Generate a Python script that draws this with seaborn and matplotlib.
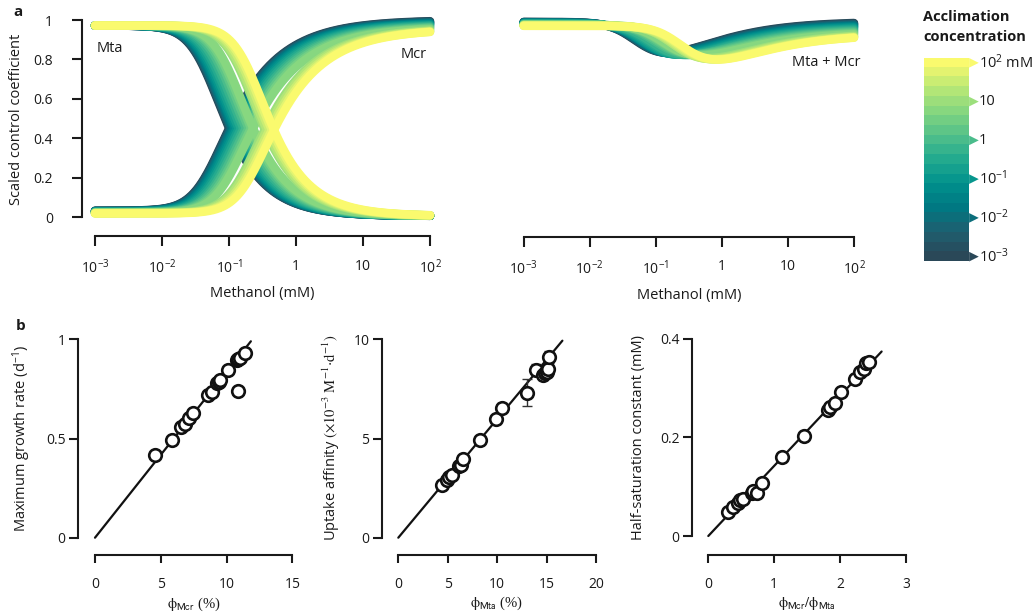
import numpy as np
import pandas as pd
import matplotlib
matplotlib.use("Agg")
import matplotlib.pyplot as plt
from matplotlib.colors import ListedColormap
from matplotlib.ticker import NullLocator
import seaborn as sns

# ---------------------------------------------------------------- data
# acclimation concentrations (log10 mM), one model curve each
accl_exp = [-3.0, -2.75, -2.5, -2.25, -2.0, -1.75, -1.5, -1.25, -1.0, -0.75,
            -0.5, -0.25, 0.0, 0.25, 0.5, 0.75, 1.0, 1.25, 1.5, 1.75, 2.0]

# per-curve model parameters for the scaled control coefficients
mta_mid = [0.090, 0.092, 0.094, 0.096, 0.099, 0.102, 0.106, 0.110, 0.116, 0.124,
           0.134, 0.146, 0.160, 0.175, 0.190, 0.205, 0.300, 0.320, 0.350, 0.380, 0.410]
mta_top = [0.972] * 21
mta_floor = [0.005] * 21
mcr_mid = [0.125, 0.127, 0.129, 0.132, 0.135, 0.139, 0.144, 0.150, 0.158, 0.168,
           0.180, 0.195, 0.210, 0.228, 0.246, 0.265, 0.400, 0.430, 0.470, 0.510, 0.550]
mcr_top = [1.000, 0.998, 0.996, 0.994, 0.992, 0.990, 0.988, 0.986, 0.984, 0.981,
           0.978, 0.975, 0.972, 0.969, 0.966, 0.963, 0.960, 0.958, 0.956, 0.955, 0.955]
mcr_floor = [0.032, 0.031, 0.031, 0.030, 0.030, 0.029, 0.028, 0.028, 0.027, 0.026,
             0.025, 0.024, 0.024, 0.023, 0.022, 0.021, 0.021, 0.020, 0.019, 0.019, 0.018]
mta_shape = (2.2, 0.4)
mcr_shape = (2.2, 0.3)

# panel b: maximum growth rate vs phi_Mcr
phi_mcr = [4.56, 5.83, 6.51, 6.84, 7.17, 7.47, 8.62, 8.87, 9.25, 9.40, 9.51,
           10.14, 10.77, 10.90, 11.03, 11.40, 10.90]
growth = [0.417, 0.492, 0.560, 0.571, 0.602, 0.627, 0.719, 0.736, 0.778, 0.785, 0.795,
          0.845, 0.896, 0.900, 0.904, 0.929, 0.739]
growth_fit_x = [0.0, 11.85]
growth_fit_y = [0.0, 0.99]

# uptake affinity vs phi_Mta
phi_mta = [4.39, 4.90, 5.16, 5.40, 6.17, 6.30, 6.51, 8.27, 9.88, 10.46, 12.99,
           13.93, 14.60, 14.84, 15.01, 15.18, 15.28]
affinity = [2.66, 2.91, 3.04, 3.16, 3.61, 3.66, 3.95, 4.92, 5.97, 6.55, 7.31,
            8.45, 8.20, 8.29, 8.37, 8.49, 9.09]
affinity_err = [0.18, 0.20, 0.20, 0.20, 0.20, 0.20, 0.22, 0.22, 0.22, 0.22, 0.67,
                0.30, 0.25, 0.25, 0.25, 0.25, 0.30]
affinity_fit_x = [0.0, 16.6]
affinity_fit_y = [0.0, 9.93]

# half-saturation constant vs phi_Mcr/phi_Mta
phi_ratio = [0.304, 0.380, 0.455, 0.481, 0.520, 0.658, 0.683, 0.734, 0.810, 1.114,
             1.452, 1.820, 1.850, 1.920, 2.020, 2.230, 2.300, 2.360, 2.400, 2.440]
half_sat = [0.049, 0.059, 0.066, 0.073, 0.076, 0.087, 0.092, 0.088, 0.108, 0.160,
            0.203, 0.256, 0.262, 0.270, 0.292, 0.318, 0.333, 0.339, 0.350, 0.352]
half_sat_fit_x = [0.0, 2.63]
half_sat_fit_y = [0.0, 0.374]

log_ticks = [1e-3, 1e-2, 1e-1, 1, 10, 100]
log_labels = ["$10^{-3}$", "$10^{-2}$", "$10^{-1}$", "1", "10", "$10^{2}$"]
cbar_labels = ["$10^{-3}$", "$10^{-2}$", "$10^{-1}$", "1", "10", "$10^{2}$ mM"]

# ---------------------------------------------------------------- style
sns.set_theme(style="white")
plt.rcParams["font.family"] = ["Open Sans", "DejaVu Sans"]
plt.rcParams["mathtext.fontset"] = "custom"
plt.rcParams["mathtext.rm"] = "Open Sans"
plt.rcParams["mathtext.it"] = "Open Sans:italic"
plt.rcParams["mathtext.bf"] = "Open Sans:bold"
plt.rcParams["mathtext.default"] = "rm"
plt.rcParams["text.color"] = "#1a1a1a"
plt.rcParams["axes.labelcolor"] = "#1a1a1a"
plt.rcParams["xtick.color"] = "#1a1a1a"
plt.rcParams["ytick.color"] = "#1a1a1a"

palette = sns.blend_palette(["#2a4858", "#1f5f70", "#007882", "#00918d", "#23aa8f",
                             "#54c18a", "#86d780", "#bdea75", "#fafa6e"], n_colors=21)

W, H = 1036, 616
fig = plt.figure(figsize=(W / 100, H / 100), dpi=100)


def place(ax, box, xmap, ymap, xlog=False):
    """Position an axes by its pixel box and map data anchors to pixels."""
    left, top, right, bottom = box

    def lim(p0, v0, p1, v1, lo_px, hi_px, log):
        t0, t1 = (np.log10(v0), np.log10(v1)) if log else (v0, v1)
        k = (t1 - t0) / (p1 - p0)
        a, b = t0 + (lo_px - p0) * k, t0 + (hi_px - p0) * k
        return (10 ** a, 10 ** b) if log else (a, b)

    ax.set_position([left / W, 1 - bottom / H, (right - left) / W, (bottom - top) / H])
    if xlog:
        ax.set_xscale("log")
    ax.set_xlim(*lim(*xmap, left, right, xlog))
    ax.set_ylim(*lim(*ymap, bottom, top, False))


def frame(ax, xb, yb=None, ylen=7.2, xlen=7.2, ypad=2.0, xpad=10.0):
    sns.despine(ax=ax)
    for s in ("left", "bottom"):
        ax.spines[s].set_linewidth(1.5)
        ax.spines[s].set_color("#1a1a1a")
    ax.spines["bottom"].set_bounds(*xb)
    if yb is None:
        ax.spines["left"].set_visible(False)
        ax.set_yticks([])
    else:
        ax.spines["left"].set_bounds(*yb)
    ax.tick_params(axis="y", direction="out", length=ylen, width=1.5, pad=ypad,
                   labelsize=10, left=yb is not None)
    ax.tick_params(axis="x", direction="out", length=xlen, width=1.5, pad=xpad,
                   labelsize=10, bottom=True)
    ax.grid(False)


def drop(s, mid, shape):
    n, m = shape
    c = (2 ** (1 / m) - 1) ** (1 / n)
    return (1 + (s / mid * c) ** n) ** (-m)


# ---------------------------------------------------------------- model curves
meth = np.logspace(-3, 2, 400)
rows_ab, rows_sum = [], []
for i in range(len(accl_exp)):
    mta = mta_floor[i] + (mta_top[i] - mta_floor[i]) * drop(meth, mta_mid[i], mta_shape)
    mcr = mcr_floor[i] + (mcr_top[i] - mcr_floor[i]) * (1 - drop(meth, mcr_mid[i], mcr_shape))
    rows_ab.append(pd.DataFrame({"S": meth, "C": mta, "curve": f"{i:02d}a"}))
    rows_ab.append(pd.DataFrame({"S": meth, "C": mcr, "curve": f"{i:02d}b"}))
    rows_sum.append(pd.DataFrame({"S": meth, "C": mta + mcr, "curve": f"{i:02d}"}))
df_ab = pd.concat(rows_ab, ignore_index=True)
df_sum = pd.concat(rows_sum, ignore_index=True)
order_ab = sorted(df_ab["curve"].unique())
order_sum = sorted(df_sum["curve"].unique())

line_kw = dict(linewidth=6.1, solid_capstyle="round", legend=False, estimator=None, sort=False)

# top-left: Mta and Mcr
ax1 = fig.add_axes([0, 0, 1, 1])
sns.lineplot(data=df_ab, x="S", y="C", hue="curve", hue_order=order_ab,
             palette=[c for c in palette for _ in (0, 1)], ax=ax1, **line_kw)
place(ax1, (82, 12, 445, 236), (95, 1e-3, 430, 1e2), (217, 0, 20, 1), xlog=True)
frame(ax1, (1e-3, 1e2), (0, 1), ylen=7.2, ypad=13.5, xpad=9.0)
ax1.set_xticks(log_ticks, log_labels)
ax1.xaxis.set_minor_locator(NullLocator())
ax1.set_yticks([0, 0.2, 0.4, 0.6, 0.8, 1], ["0", "0.2", "0.4", "0.6", "0.8", "1"])
ax1.set_xlabel("Methanol (mM)", fontsize=10.5)
ax1.set_ylabel("Scaled control coefficient", fontsize=10.5, va="center")
ax1.xaxis.set_label_coords(262.5 / W, 1 - 294 / H, transform=fig.transFigure)
ax1.xaxis.label.set_va("center")
ax1.yaxis.set_label_coords(16.7 / W, 1 - 119 / H, transform=fig.transFigure)
fig.text(97 / W, 1 - 48 / H, "Mta", fontsize=10.5, va="center", ha="left")
fig.text(427 / W, 1 - 55 / H, "Mcr", fontsize=10.5, va="center", ha="right")

# top-right: sum of both coefficients
ax2 = fig.add_axes([0, 0, 1, 1])
sns.lineplot(data=df_sum, x="S", y="C", hue="curve", hue_order=order_sum,
             palette=list(palette), ax=ax2, **line_kw)
place(ax2, (510, 12, 870, 236.7), (523.7, 1e-3, 854, 1e2), (23, 1.0, 309, 0.0), xlog=True)
frame(ax2, (1e-3, 1e2), None, xpad=9.0)
ax2.set_xticks(log_ticks, log_labels)
ax2.xaxis.set_minor_locator(NullLocator())
ax2.set_xlabel("Methanol (mM)", fontsize=10.5)
ax2.set_ylabel("")
ax2.xaxis.set_label_coords(688.8 / W, 1 - 295 / H, transform=fig.transFigure)
ax2.xaxis.label.set_va("center")
fig.text(860 / W, 1 - 62 / H, "Mta + Mcr", fontsize=10.5, va="center", ha="right")

# stepped colour key
cax = fig.add_axes([924 / W, 1 - 261.5 / H, 45 / W, 203.5 / H])
cax.imshow(np.arange(21)[:, None], cmap=ListedColormap(palette), origin="lower",
           aspect="auto", extent=(0, 1, -0.5, 20.5), interpolation="nearest")
cax.set_xlim(0, 1)
cax.set_ylim(-0.5, 20.5)
cax.set_axis_off()
marks = [0, 4, 8, 12, 16, 20]
cax.scatter([1.11] * 6, marks, marker=">", s=48, c=[palette[k] for k in marks],
            linewidths=0, clip_on=False)
for k, lab in zip(marks, cbar_labels):
    cax.text(1.22, k, lab, fontsize=10.5, va="center", ha="left",
             transform=cax.get_yaxis_transform())
fig.text(923 / W, 1 - 17 / H, "Acclimation", fontsize=10.5, fontweight="bold", va="center")
fig.text(923 / W, 1 - 37 / H, "concentration", fontsize=10.5, fontweight="bold", va="center")

# ---------------------------------------------------------------- panel b
scat_kw = dict(s=82, color="white", edgecolor="#111111", linewidth=1.9, zorder=3, legend=False)
fit_kw = dict(color="#111111", linewidth=1.6, zorder=1)

bx1 = fig.add_axes([0, 0, 1, 1])
sns.lineplot(x=growth_fit_x, y=growth_fit_y, ax=bx1, **fit_kw)
sns.scatterplot(x=phi_mcr, y=growth, ax=bx1, **scat_kw)
place(bx1, (77.7, 330, 300, 555), (95, 0, 292.3, 15), (537.7, 0, 339.3, 1))
frame(bx1, (0, 15), (0, 1), ylen=6.8, xlen=6.0)
bx1.set_xticks([0, 5, 10, 15], ["0", "5", "10", "15"])
bx1.set_yticks([0, 0.5, 1], ["0", "0.5", "1"])
bx1.set_xlabel(r"$\phi_{\mathsf{Mcr}}$ (%)", fontsize=10.5, family="Liberation Serif",
               math_fontfamily="stix")
bx1.set_ylabel("Maximum growth rate (d$^{-1}$)", fontsize=10.5, va="center")
bx1.xaxis.set_label_coords(193.6 / W, 1 - 604 / H, transform=fig.transFigure)
bx1.xaxis.label.set_va("center")
bx1.yaxis.set_label_coords(21.7 / W, 1 - 438 / H, transform=fig.transFigure)

bx2 = fig.add_axes([0, 0, 1, 1])
sns.lineplot(x=affinity_fit_x, y=affinity_fit_y, ax=bx2, **fit_kw)
bx2.errorbar(phi_mta, affinity, yerr=affinity_err, fmt="none", ecolor="#333333",
             elinewidth=1.0, capsize=3.5, capthick=1.0, zorder=2)
sns.scatterplot(x=phi_mta, y=affinity, ax=bx2, **scat_kw)
place(bx2, (381.7, 330, 604, 555), (398.3, 0, 596, 20), (537.7, 0, 339.3, 10))
frame(bx2, (0, 20), (0, 10), ylen=6.8, xlen=6.0)
bx2.set_xticks([0, 5, 10, 15, 20], ["0", "5", "10", "15", "20"])
bx2.set_yticks([0, 5, 10], ["0", "5", "10"])
bx2.set_xlabel(r"$\phi_{\mathsf{Mta}}$ (%)", fontsize=10.5, family="Liberation Serif",
               math_fontfamily="stix")
bx2.set_ylabel(r"Uptake affinity $(\times10^{-3}\ M^{-1}\!\cdot\!d^{-1})$", fontsize=10.5,
               va="center", math_fontfamily="stix")
bx2.xaxis.set_label_coords(497 / W, 1 - 603 / H, transform=fig.transFigure)
bx2.xaxis.label.set_va("center")
bx2.yaxis.set_label_coords(331.7 / W, 1 - 438 / H, transform=fig.transFigure)

bx3 = fig.add_axes([0, 0, 1, 1])
sns.lineplot(x=half_sat_fit_x, y=half_sat_fit_y, ax=bx3, **fit_kw)
sns.scatterplot(x=phi_ratio, y=half_sat, ax=bx3, **scat_kw)
place(bx3, (691.7, 330, 914, 555), (708.3, 0, 906, 3), (536, 0, 338.7, 0.4))
frame(bx3, (0, 3), (0, 0.4), ylen=6.8, xlen=6.0)
bx3.set_xticks([0, 1, 2, 3], ["0", "1", "2", "3"])
bx3.set_yticks([0, 0.2, 0.4], ["0", "0.2", "0.4"])
bx3.set_xlabel(r"$\phi_{\mathsf{Mcr}}/\phi_{\mathsf{Mta}}$", fontsize=10.5,
               family="Liberation Serif", math_fontfamily="stix")
bx3.set_ylabel("Half-saturation constant (mM)", fontsize=10.5, va="center")
bx3.xaxis.set_label_coords(807 / W, 1 - 603 / H, transform=fig.transFigure)
bx3.xaxis.label.set_va("center")
bx3.yaxis.set_label_coords(638.3 / W, 1 - 438 / H, transform=fig.transFigure)

fig.text(18 / W, 1 - 12 / H, "a", fontsize=11, fontweight="bold", va="center", ha="center")
fig.text(20.7 / W, 1 - 326 / H, "b", fontsize=11, fontweight="bold", va="center", ha="center")

fig.savefig("out.png", dpi=100, facecolor="white")
